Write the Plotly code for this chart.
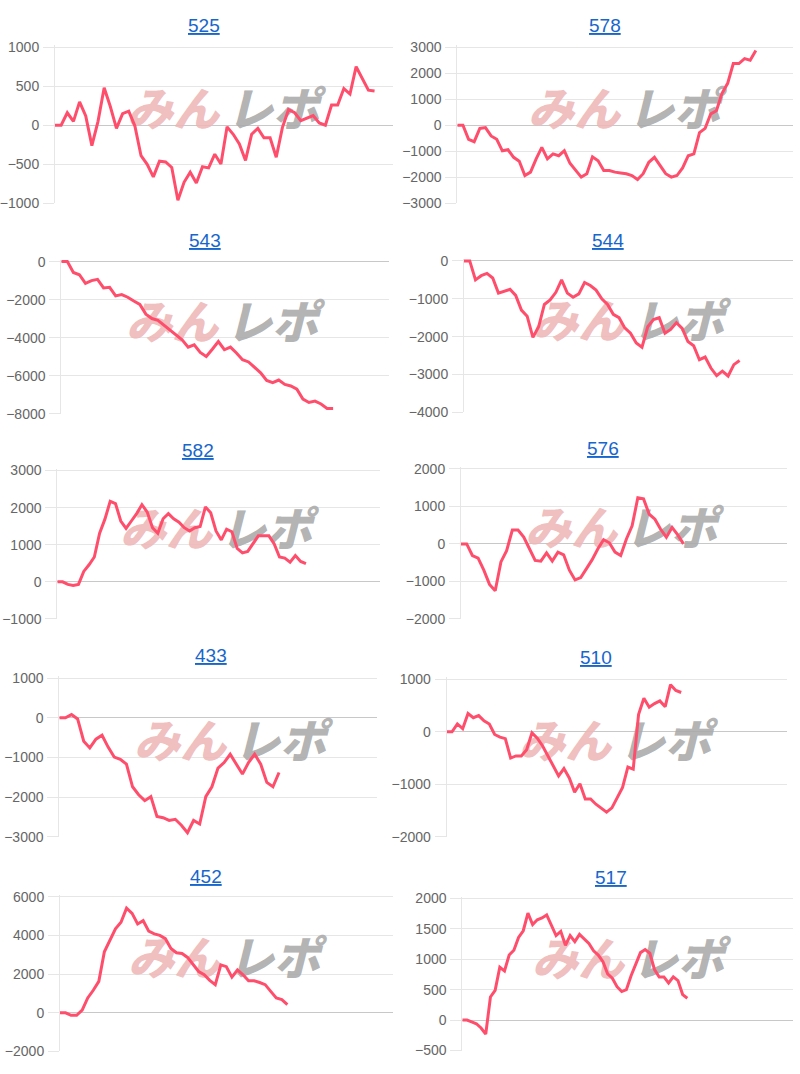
import plotly.graph_objects as go

# ---------------- data ----------------
titles = ["525", "578", "543", "544", "582", "576", "433", "510", "452", "517"]

s525 = [0, 0, 160, 50, 300, 120, -260, 50, 480, 240, -40, 150, 180, -10, -390, -500, -660, -460, -470, -540,
        -960, -730, -600, -740, -530, -545, -370, -495, -20, -115, -240, -450, -115, -40, -160, -160, -410, -30,
        200, 160, 60, 95, 125, 30, 0, 260, 260, 470, 400, 750, 590, 450, 440]
s578 = [0, 0, -540, -630, -120, -90, -410, -540, -980, -940, -1230, -1380, -1930, -1800, -1290, -850, -1290,
        -1100, -1170, -980, -1460, -1740, -1990, -1860, -1210, -1360, -1740, -1740, -1800, -1830, -1860, -1930,
        -2080, -1860, -1420, -1230, -1550, -1860, -1990, -1930, -1640, -1170, -1100, -280, -120, 440, 560, 1230,
        1610, 2370, 2370, 2560, 2500, 2870]
s543 = [0, 0, -570, -690, -1140, -1000, -930, -1380, -1350, -1800, -1730, -1870, -2070, -2250, -2760, -2990,
        -3080, -3340, -3590, -3900, -4110, -4490, -4370, -4770, -4980, -4600, -4200, -4630, -4490, -4800, -5150,
        -5270, -5580, -5840, -6240, -6360, -6220, -6450, -6530, -6700, -7220, -7400, -7330, -7480, -7710, -7710]
s544 = [0, 0, -500, -390, -330, -450, -850, -800, -750, -910, -1300, -1460, -2020, -1740, -1150, -1030, -830,
        -500, -850, -960, -870, -570, -650, -770, -1000, -1150, -1410, -1500, -1770, -1910, -2170, -2280, -1740,
        -1550, -1500, -1910, -1810, -1630, -1780, -2130, -2240, -2610, -2540, -2830, -3030, -2910, -3040, -2740,
        -2630]
s582 = [0, 0, -70, -100, -70, 280, 460, 670, 1310, 1690, 2170, 2110, 1640, 1440, 1640, 1840, 2080, 1880, 1460,
        1310, 1700, 1840, 1700, 1610, 1460, 1370, 1460, 1490, 2020, 1860, 1370, 1130, 1420, 1350, 900, 780, 820,
        1020, 1240, 1240, 1240, 1020, 670, 640, 530, 710, 550, 490]
s576 = [0, 0, -310, -380, -700, -1080, -1250, -480, -180, 370, 370, 180, -130, -440, -460, -240, -460, -220,
        -290, -700, -960, -900, -660, -420, -130, 110, 30, -220, -310, 130, 480, 1230, 1200, 790, 660, 390, 180,
        440, 240, 0]
s433 = [0, 0, 80, -30, -590, -760, -540, -440, -740, -990, -1050, -1170, -1740, -1940, -2090, -1990, -2490,
        -2520, -2590, -2560, -2710, -2900, -2590, -2680, -1990, -1740, -1270, -1130, -920, -1170, -1420, -1130,
        -920, -1170, -1630, -1740, -1380]
s510 = [0, 0, 150, 60, 350, 270, 310, 210, 150, -50, -100, -130, -500, -460, -460, -340, -20, -120, -270, -460,
        -650, -840, -700, -880, -1150, -990, -1280, -1280, -1380, -1450, -1530, -1450, -1250, -1060, -670, -710,
        330, 640, 470, 540, 590, 480, 900, 790, 750]
s452 = [0, 0, -130, -130, 140, 770, 1170, 1630, 3160, 3720, 4350, 4690, 5420, 5150, 4600, 4770, 4230, 4090,
        4010, 3840, 3330, 3110, 3070, 2870, 2480, 2140, 1970, 1680, 1460, 2480, 2390, 1850, 2220, 1970, 1660,
        1660, 1570, 1460, 1110, 770, 690, 430]
s517 = [0, 0, -30, -60, -130, -230, 380, 490, 870, 810, 1070, 1150, 1360, 1470, 1760, 1570, 1650, 1680, 1730,
        1560, 1390, 1460, 1230, 1390, 1290, 1410, 1340, 1260, 1140, 1070, 960, 760, 690, 550, 470, 500, 730, 930,
        1110, 1160, 1100, 830, 710, 710, 610, 710, 650, 420, 360]

series = [s525, s578, s543, s544, s582, s576, s433, s510, s452, s517]

# ---------------- layout (pixels) ----------------
W, H = 800, 1074
# left, right, top(y of max tick), bottom(y of min tick), ymin, ymax, dtick, xmax
panels = [
    (55.0, 393.0, 41.7, 200.0, -1000, 1000, 500, 55.0),
    (457.3, 793.0, 41.7, 200.0, -3000, 3000, 1000, 59.6),
    (61.3, 389.3, 259.0, 413.3, -8000, 0, 2000, 54.3),
    (464.0, 793.0, 258.3, 411.7, -4000, 0, 1000, 57.3),
    (57.3, 380.0, 470.7, 621.0, -1000, 3000, 1000, 61.0),
    (461.0, 786.7, 469.0, 621.0, -2000, 2000, 1000, 57.1),
    (59.3, 376.7, 681.0, 841.7, -3000, 1000, 1000, 52.0),
    (446.7, 786.7, 682.3, 841.7, -2000, 1000, 1000, 63.8),
    (60.0, 393.3, 902.7, 1059.3, -2000, 6000, 2000, 60.1),
    (462.3, 793.3, 904.3, 1058.3, -500, 2000, 500, 70.6),
]
title_pos = [(204, 20), (605, 20), (205, 238), (608, 238), (198, 450),
             (603, 448), (211, 658), (596, 660), (206, 882), (611, 883)]
wm_pos = [(225, 110), (626, 110), (224, 326), (630, 325), (218, 536),
          (623, 534), (232, 750), (617, 750), (226, 970), (630, 971)]

LINE = "rgb(255,78,108)"
GRID = "#e6e6e6"
ZERO = "#c8c8c8"
TICKFONT = dict(family="Liberation Sans, Arial", size=14, color="#666666")
WM_FAMILY = "Noto Sans CJK JP Black, Noto Sans CJK JP, Noto Sans CJK SC"

fig = go.Figure()
annotations = []
pad_px = 2.0  # extra room above so a line at the top tick is not clipped

for i, (s, p) in enumerate(zip(series, panels)):
    left, right, top, bottom, ymin, ymax, dtick, xmax = p
    n = "" if i == 0 else str(i + 1)
    xa, ya = "x" + n, "y" + n
    units_per_px = (ymax - ymin) / (bottom - top)
    ytop = ymax + pad_px * units_per_px
    ptop = top - pad_px

    # watermark (drawn under the line)
    cx, cy = wm_pos[i]

    def to_data(px, py):
        fx = (px - left) / (right - left)
        fy = (bottom - py) / (bottom - top)
        return fx * xmax, ymin + fy * (ymax - ymin)

    x1, y1 = to_data(cx - 52, cy)
    x2, y2 = to_data(cx + 48, cy)
    fig.add_trace(go.Scatter(x=[x1], y=[y1], mode="text", text=["<b>みん</b>"], xaxis=xa, yaxis=ya,
                             textposition="middle center", hoverinfo="skip", showlegend=False,
                             cliponaxis=False,
                             textfont=dict(family=WM_FAMILY, size=46, color="rgba(238,182,182,0.9)",
                                           weight=900, style="italic")))
    fig.add_trace(go.Scatter(x=[x2], y=[y2], mode="text", text=["<b>レポ</b>"], xaxis=xa, yaxis=ya,
                             textposition="middle center", hoverinfo="skip", showlegend=False,
                             cliponaxis=False,
                             textfont=dict(family=WM_FAMILY, size=46, color="rgba(170,170,170,0.9)",
                                           weight=900, style="italic")))

    fig.add_trace(go.Scatter(x=list(range(len(s))), y=s, mode="lines", xaxis=xa, yaxis=ya,
                             line=dict(color=LINE, width=3), showlegend=False, hoverinfo="skip"))

    fig.update_layout({
        "xaxis" + n: dict(domain=[left / W, right / W], range=[0, xmax], anchor=ya,
                          showgrid=False, zeroline=False, showline=False, showticklabels=False,
                          ticks="", fixedrange=True),
        "yaxis" + n: dict(domain=[1 - bottom / H, 1 - ptop / H], range=[ymin, ytop], anchor=xa,
                          tickmode="linear", tick0=ymin, dtick=dtick,
                          showgrid=True, gridcolor=GRID, gridwidth=1,
                          zeroline=True, zerolinecolor=ZERO, zerolinewidth=1,
                          showline=True, linecolor=GRID, linewidth=1,
                          ticks="outside", ticklen=11, tickcolor=GRID, tickwidth=1,
                          ticklabelstandoff=1,
                          tickfont=TICKFONT, fixedrange=True),
    })

    tx, ty = title_pos[i]
    annotations.append(dict(text="<u>" + titles[i] + "</u>", x=tx / W, y=1 - ty / H, xref="paper", yref="paper",
                            xanchor="center", yanchor="middle", showarrow=False,
                            font=dict(family="Liberation Sans, Arial", size=19, color="#1766cc")))

fig.update_layout(width=W, height=H, margin=dict(l=0, r=0, t=0, b=0),
                  paper_bgcolor="white", plot_bgcolor="white",
                  annotations=annotations, showlegend=False)

fig.write_html("out.html")
